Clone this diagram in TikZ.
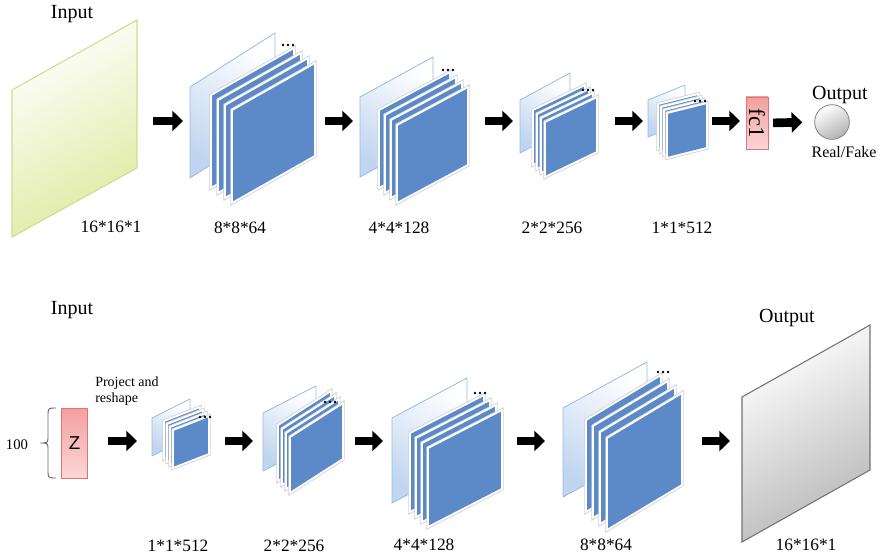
\documentclass[tikz,border=0pt]{standalone}
\usepackage{fontspec}
\setmainfont{Liberation Serif}
\newfontfamily\zfont{Liberation Sans}
\usetikzlibrary{arrows.meta}

\definecolor{mapblue}{RGB}{92,138,200}
\definecolor{mappale}{RGB}{192,213,240}
\definecolor{mapedge}{RGB}{150,186,226}
\definecolor{inyellow}{RGB}{222,234,160}
\definecolor{inedge}{RGB}{204,222,140}
\definecolor{boxpink}{RGB}{242,160,160}
\definecolor{boxlight}{RGB}{252,214,214}
\definecolor{boxedge}{RGB}{220,118,118}

\tikzset{
  fatarrow/.style={line width=6.5pt, -{Triangle[length=8pt,width=15pt]}},
  backpane/.style={draw=mapedge, line width=0.6pt, line join=round,
    top color=white, bottom color=mappale, shading angle=-30},
  bluepane/.style={fill=mapblue, draw=white, line width=1.4pt, line join=round,
    preaction={draw=black!18, line width=2.6pt}},
  inplane/.style={draw=inedge, line width=0.8pt, top color=white,
    bottom color=inyellow, shading angle=30},
  outplane/.style={draw=black!55, line width=0.8pt, top color=white,
    bottom color=black!28, shading angle=30},
  pinkbox/.style={draw=boxedge, line width=0.6pt, top color=boxpink,
    bottom color=boxlight, inner sep=0pt},
  title/.style={font=\fontsize{15}{17}\selectfont, inner sep=0pt},
  dimlabel/.style={font=\fontsize{13}{15}\selectfont, inner sep=0pt},
}

\begin{document}
\begin{tikzpicture}[x=0.75pt,y=-0.75pt]
  \useasboundingbox (0,0) rectangle (881,559);

  % discriminator (top row)
  \node[title] (dinput) at (72,14) {Input};
  \shade[inplane] (12,90) -- (137,20) -- (137,168) -- (12,237) -- cycle;

  % feature maps: back pane, four blue panes, dots
  \foreach \bx/\by/\bw/\br/\bh/\fx/\fy/\fw/\fr/\fh/\sx/\sy/\ox/\oy in {
      190/87/85/54/91/232/110/83/47/93/7/5/288/45,
      360/97/73/40/80/397/125/71/38/78/6/5/448/70,
      520/100/50/27/53/545/122/52/25/55/4/4/588/90,
      648/100/37/15/37/667/113/40/10/45/3/3/700/101,
      152/418/38/19/38/173/430/36/14/38/3/3/205/417,
      263/413/53/27/58/290/437/53/34/56/4/4/330/402,
      392/418/75/40/85/428/448/74/38/79/6/5/480/393,
      563/408/84/46/89/607/438/75/45/92/7/6/663/372} {
    \shade[backpane] (\bx,\by) -- ++(\bw,-\br) -- ++(0,\bh) -- ++(-\bw,\br) -- cycle;
    \foreach \k in {3,2,1,0}
      \filldraw[bluepane] (\fx-\k*\sx,\fy-\k*\sy) -- ++(\fw,-\fr) -- ++(0,\fh)
        -- ++(-\fw,\fr) -- cycle;
    \foreach \d in {-5,0,5}
      \fill (\ox+\d,\oy) circle (1pt);
  }

  % size labels
  \foreach \n/\x/\y/\t in {d0/111/227/16*16*1, d1/240/228/8*8*64, d2/399/228/4*4*128,
      d3/552/228/2*2*256, d4/682/228/1*1*512, g1/178/546/1*1*512, g2/294/546/2*2*256,
      g3/424/545/4*4*128, g4/606/545/8*8*64, g5/806/545/16*16*1}
    \node[dimlabel] (\n) at (\x,\y) {\t};

  % arrows between the maps
  \foreach \n/\xa/\xb/\y in {a1/153/183/121, a2/325/353/121, a3/485/513/121,
      a4/615/643/121, a5/712/740/121, b1/108/137/441, b2/225/253/441,
      b3/355/383/441, b4/517/545/441, b5/702/730/441} {
    \coordinate (\n-s) at (\xa,\y);
    \coordinate (\n-e) at (\xb,\y);
    \draw[fatarrow] (\n-s) -- (\n-e);
  }

  \node[pinkbox, minimum width=16.5pt, minimum height=39pt] (fc) at (757,123)
    {\fontsize{17}{19}\selectfont\rotatebox{-90}{fc1}};
  \node[circle, draw=black!50, line width=0.6pt, top color=white, bottom color=black!30,
    shading angle=30, minimum size=26pt, inner sep=0pt] (real) at (832,122) {};
  \draw[fatarrow, shorten <=3.5pt, shorten >=9pt] (fc.east) -- (real.west);
  \node[title] (dout) at (840,95) {Output};
  \node[font=\fontsize{12}{14}\selectfont, inner sep=0pt] (rf) at (844,152) {Real/Fake};

  % generator (bottom row)
  \node[title] (ginput) at (72,310) {Input};
  \node[font=\fontsize{11}{13}\selectfont, inner sep=0pt] (len) at (17,445) {100};
  \draw[black!60, line width=0.7pt] (56,408) .. controls (48,408) .. (48,416) -- (48,436)
    .. controls (48,443) .. (40,443) .. controls (48,443) .. (48,450) -- (48,470)
    .. controls (48,478) .. (56,478);
  \node[pinkbox, minimum width=19pt, minimum height=52.5pt] (z) at (74.5,443)
    {\zfont\fontsize{14}{16}\selectfont Z};
  \node[font=\fontsize{10.5}{12}\selectfont, align=left, anchor=west, inner sep=0pt]
    (proj) at (95,391) {Project and\\reshape};

  \shade[outplane] (742,397) -- (870,325) -- (870,470) -- (742,542) -- cycle;
  \node[title] (gout) at (787,318) {Output};

\end{tikzpicture}
\end{document}
